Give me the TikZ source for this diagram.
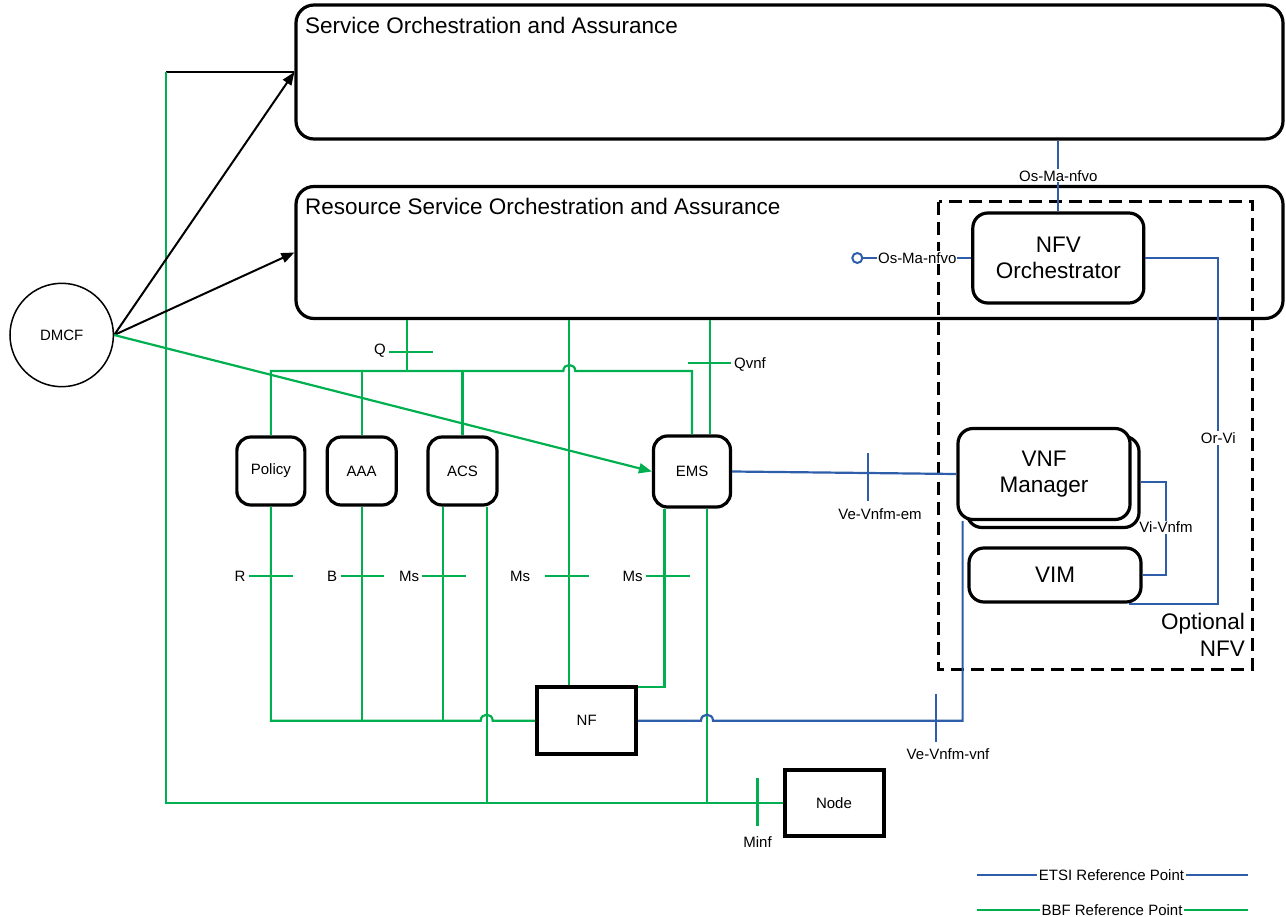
\documentclass[tikz,border=0pt]{standalone}
\usepackage{fontspec}
\setmainfont{Liberation Sans}
\usetikzlibrary{arrows.meta,calc}
\definecolor{bbfgreen}{RGB}{0,176,80}
\definecolor{etsiblue}{RGB}{46,94,170}

\begin{document}
\begin{tikzpicture}[x=1pt,y=-1pt,
  every node/.style={font=\fontsize{15}{18}\selectfont, inner sep=0pt},
  bigbox/.style={draw, line width=3.2pt, rounded corners=18pt, fill=white},
  fnbox/.style={draw, line width=3.2pt, rounded corners=15pt, fill=white, align=center,
                font=\fontsize{22.5}{26.7}\selectfont},
  smallbox/.style={draw, line width=3.2pt, rounded corners=14pt, fill=white},
  sqbox/.style={draw, line width=4pt, fill=white},
  titletext/.style={anchor=base west, font=\fontsize{22.5}{27}\selectfont},
  nfvzone/.style={draw, line width=2.5pt, dash pattern=on 13pt off 7pt},
  bbf/.style={draw=bbfgreen, line width=2.2pt},
  etsi/.style={draw=etsiblue, line width=2.2pt},
  ctl/.style={draw=black, line width=2pt},
  refmark/.style={line width=2.2pt},
  lbl/.style={fill=white, inner sep=1pt},
  tip/.style={-{Triangle[length=13pt,width=10pt]}},
]
\useasboundingbox (0,0) rectangle (1286,917);

% ---------- orchestration layers ----------
\node[bigbox, minimum width=987pt, minimum height=134pt] (service) at (789.5,72) {};
\node[titletext] (servicetitle) at (305,34) {Service Orchestration and Assurance};
\node[bigbox, minimum width=987pt, minimum height=132pt] (resource) at (789.5,252.5) {};
\node[titletext] (resourcetitle) at (305,215) {Resource Service Orchestration and Assurance};

% ---------- optional NFV zone ----------
\draw[nfvzone] (938.7,201.7) rectangle (1252.7,669.3);
\node[fnbox, minimum width=171pt, minimum height=90pt] (nfvo) at (1058.3,258) {NFV\\Orchestrator};
\node[fnbox, minimum width=172pt, minimum height=91pt] (vnfmback) at (1053,482) {};
\node[fnbox, minimum width=172pt, minimum height=91pt] (vnfm) at (1044,474) {VNF\\Manager};
\node[fnbox, minimum width=172pt, minimum height=54pt] (vim) at (1055,575) {VIM};
\node[anchor=east, align=right, font=\fontsize{22.5}{26.5}\selectfont] (optnfv) at (1245,635) {Optional\\NFV};

% ---------- functional boxes ----------
\node[smallbox, minimum width=68pt, minimum height=68pt] (policy) at (270.85,471) {Policy};
\node[smallbox, minimum width=69pt, minimum height=68pt] (aaa) at (361.7,471) {AAA};
\node[smallbox, minimum width=69pt, minimum height=68pt] (acs) at (462.5,471) {ACS};
\node[smallbox, minimum width=77pt, minimum height=71pt] (ems) at (692,471.5) {EMS};
\node[sqbox, minimum width=99pt, minimum height=67pt] (nf) at (586.7,720.7) {NF};
\node[sqbox, minimum width=99pt, minimum height=66pt] (node) at (834,803.3) {Node};
\node[circle, draw, line width=1.5pt, minimum size=103.4pt] (dmcf) at (61.7,335) {DMCF};

% ---------- BBF reference points ----------
\coordinate (bus) at (0,371);
\coordinate (nfbus) at (0,720.7);
\coordinate (qline) at (407,371);
\coordinate (msmid) at (569.3,576);
\coordinate (qvnf) at (710.3,363.3);
\coordinate (emsl) at (664.4,687.2);
\coordinate (emsr) at (707,803.3);
\coordinate (acsl) at (442.7,720.7);
\coordinate (acsr) at (486.7,803.3);
\coordinate (riser) at (166,72);

\draw[bbf] (qline |- resource.south) -- (qline);
\draw[bbf] (policy.north) -- (policy.north |- bus) -- (563.3,371)
  .. controls (563.3,363) and (575.3,363) .. (575.3,371) -- (ems.north |- bus) -- (ems.north);
\draw[bbf] (aaa.north |- bus) -- (aaa.north);
\draw[bbf] (acs.north |- bus) -- (acs.north);
\draw[bbf] (msmid |- resource.south) -- (msmid |- nf.north);
\draw[bbf] (qvnf |- resource.south) -- (qvnf |- ems.north);
\draw[bbf] (emsl |- ems.south) -- (emsl) -- (emsl -| nf.east);
\draw[bbf] (emsr |- ems.south) -- (emsr);
\draw[bbf] (policy.south) -- (policy.south |- nfbus) -- (480.7,720.7)
  .. controls (480.7,712.7) and (492.7,712.7) .. (492.7,720.7) -- (nf.west);
\draw[bbf] (aaa.south) -- (aaa.south |- nfbus);
\draw[bbf] (acsl |- acs.south) -- (acsl);
\draw[bbf] (acsr |- acs.south) -- (acsr);
\draw[ctl] (service.west) -- (riser);
\draw[bbf] (riser) -- (riser |- node.west) -- (node.west);

% reference point marks (BBF)
\draw[bbf, refmark] (389,352) -- (433,352);
\node[anchor=east] (qlabel) at (386,351) {Q};
\draw[bbf, refmark] (688,363.3) -- (731,363.3);
\node[anchor=west] (qvnflabel) at (734,364) {Qvnf};
\draw[bbf, refmark] (249,575.7) -- (292.7,575.7);
\node (rlabel) at (240,576) {R};
\draw[bbf, refmark] (340.7,575.7) -- (384.3,575.7);
\node (blabel) at (332,576) {B};
\draw[bbf, refmark] (421.7,575.7) -- (465.7,575.7);
\node (mslabela) at (409,576) {Ms};
\draw[bbf, refmark] (545,575.7) -- (589,575.7);
\node (mslabelb) at (520,576) {Ms};
\draw[bbf, refmark] (646,575.7) -- (690,575.7);
\node (mslabelc) at (632.7,576) {Ms};
\draw[bbf, refmark] (757.5,778) -- (757.5,825.5);
\node (minflabel) at (757.5,842) {Minf};

% ---------- DMCF links ----------
\draw[ctl, tip] (dmcf.east) -- (service.west);
\draw[ctl, tip] (dmcf.east) -- (resource.west);
\draw[bbf, tip] (dmcf.east) -- (ems.west);

% ---------- ETSI reference points ----------
\draw[etsi] (nfvo.north) -- (nfvo.north |- service.south)
  node[lbl, midway] (osmatop) {Os-Ma-nfvo};
\node[circle, draw=etsiblue, line width=2pt, minimum size=10pt, fill=white] (osport) at (857.3,258) {};
\draw[etsi] (osport) -- (nfvo.west) node[lbl, midway] (osmaleft) {Os-Ma-nfvo};

\coordinate (orvi) at (1218.3,258);
\draw[etsi] (nfvo.east) -- (orvi) -- (orvi |- vim.south) -- ([xshift=-14pt]vim.south east);
\node[lbl] (orvilabel) at (1218.3,438) {Or-Vi};

\coordinate (vivnfm) at (1166,482);
\draw[etsi] (vnfmback.east) -- (vivnfm) -- (vivnfm |- vim.east) -- (vim.east);
\node[lbl] (vivnfmlabel) at (1166,527.3) {Vi-Vnfm};

\draw[etsi] (ems.east) -- (vnfm.west);
\draw[etsi, refmark] (868,453) -- (868,501);
\node (vevnfmem) at (880,514) {Ve-Vnfm-em};

\coordinate (vnfdrop) at (962.6,720.7);
\draw[etsi] (nf.east) -- (701,720.7) .. controls (701,712.7) and (713,712.7) .. (713,720.7)
  -- (vnfdrop) -- (vnfdrop |- vnfm.south);
\draw[etsi, refmark] (936,694) -- (936,741.7);
\node (vevnfmvnf) at (948,754) {Ve-Vnfm-vnf};

% ---------- legend ----------
\node[inner xsep=1.5pt] (etsilegend) at (1111.5,875) {ETSI Reference Point};
\coordinate (etsiA) at (977,875);
\coordinate (etsiB) at (1248,875);
\draw[etsi] (etsiA) -- (etsilegend.west);
\draw[etsi] (etsilegend.east) -- (etsiB);

\node[inner xsep=1.5pt] (bbflegend) at (1112,910) {BBF Reference Point};
\coordinate (bbfA) at (977,910);
\coordinate (bbfB) at (1248,910);
\draw[bbf] (bbfA) -- (bbflegend.west);
\draw[bbf] (bbflegend.east) -- (bbfB);
\end{tikzpicture}
\end{document}
